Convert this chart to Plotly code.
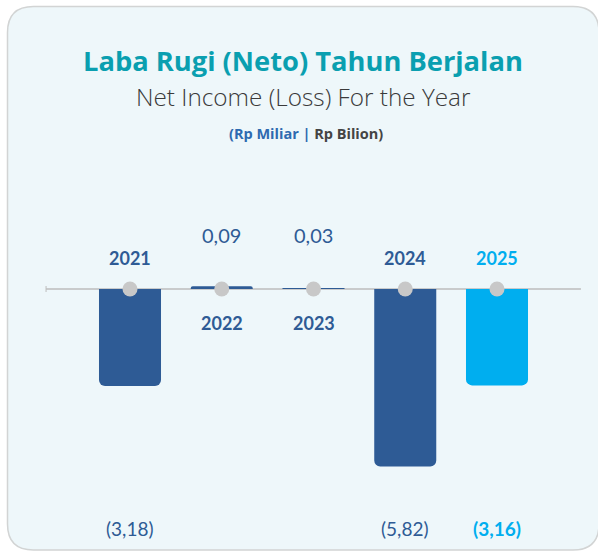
import plotly.graph_objects as go

# ---- data ----
years = ["2021", "2022", "2023", "2024", "2025"]
net_income = [-3.18, 0.09, 0.03, -5.82, -3.16]
bar_colors = ["#2E5B95", "#2E5B95", "#2E5B95", "#2E5B95", "#00AEEF"]
highlight = [False, False, False, False, True]

title_id = "Laba Rugi (Neto) Tahun Berjalan"
title_en = "Net Income (Loss) For the Year"

W, H = 598, 551
DARK = "#2E5B95"
CYAN = "#00AEEF"


def fmt(v):
    s = f"{abs(v):.2f}".replace(".", ",")
    return f"({s})" if v < 0 else s


def px(x):
    return x / W


def py(y):
    return 1 - y / H


xs = list(range(len(years)))

fig = go.Figure()

fig.add_trace(go.Bar(
    x=xs, y=net_income, width=0.676,
    marker=dict(color=bar_colors, cornerradius=6, line=dict(width=0)),
    hoverinfo="skip",
))

fig.add_trace(go.Scatter(
    x=xs, y=[0] * len(xs), mode="markers",
    marker=dict(size=15, color="#C8C8C8"),
    hoverinfo="skip",
))

# card (rounded rectangle)
l, t, r, b, rad = 7.5, 6.5, 599, 550, 26
path = (
    f"M {px(l+rad)},{py(t)} L {px(r-rad)},{py(t)} "
    f"Q {px(r)},{py(t)} {px(r)},{py(t+rad)} "
    f"L {px(r)},{py(b-rad)} Q {px(r)},{py(b)} {px(r-rad)},{py(b)} "
    f"L {px(l+rad)},{py(b)} Q {px(l)},{py(b)} {px(l)},{py(b-rad)} "
    f"L {px(l)},{py(t+rad)} Q {px(l)},{py(t)} {px(l+rad)},{py(t)} Z"
)
shapes = [
    dict(type="path", path=path, xref="paper", yref="paper",
         fillcolor="#EEF7FA", line=dict(color="#D2D4D4", width=1.5), layer="below"),
    dict(type="line", xref="x", yref="y", x0=-0.915, x1=4.915, y0=0, y1=0,
         line=dict(color="#BDBDBD", width=1.5), layer="below"),
    dict(type="line", xref="x", yref="paper", x0=-0.915, x1=-0.915,
         y0=py(292), y1=py(286), line=dict(color="#BDBDBD", width=1)),
]

annotations = [
    dict(text=f"<b>{title_id}</b>", x=px(303), y=py(60), xref="paper", yref="paper",
         xanchor="center", yanchor="middle", showarrow=False,
         font=dict(family="Open Sans", size=27.3, color="#0A9FB0")),
    dict(text=title_en, x=px(303), y=py(96), xref="paper", yref="paper",
         xanchor="center", yanchor="middle", showarrow=False,
         font=dict(family="Open Sans", size=24.3, weight=300, color="#3A3A3A")),
    dict(text="<b><span style='color:#2E6AB0'>(Rp Miliar |</span> Rp Bilion)</b>",
         x=px(306), y=py(134), xref="paper", yref="paper",
         xanchor="center", yanchor="middle", showarrow=False,
         font=dict(family="Open Sans", size=14.5, color="#444444")),
]

for i, (yr, v, hl) in enumerate(zip(years, net_income, highlight)):
    col = CYAN if hl else DARK
    if v < 0:
        annotations.append(dict(text=f"<b>{yr}</b>", x=i, y=0, xref="x", yref="y",
                                yshift=31, showarrow=False, yanchor="middle",
                                font=dict(family="Lato", size=18, color=col)))
        lab = f"<b>{fmt(v)}</b>" if hl else fmt(v)
        annotations.append(dict(text=lab, x=i, y=py(528), xref="x", yref="paper",
                                showarrow=False, yanchor="middle",
                                font=dict(family="Lato", size=19, color=col)))
    else:
        annotations.append(dict(text=f"<b>{yr}</b>", x=i, y=0, xref="x", yref="y",
                                yshift=-34, showarrow=False, yanchor="middle",
                                font=dict(family="Lato", size=18, color=col)))
        annotations.append(dict(text=fmt(v), x=i, y=0, xref="x", yref="y",
                                yshift=54, showarrow=False, yanchor="middle",
                                font=dict(family="Lato", size=20, color=col)))

scale = 30.5  # px per unit
fig.update_layout(
    width=W, height=H, margin=dict(l=0, r=0, t=0, b=0),
    paper_bgcolor="white", plot_bgcolor="rgba(0,0,0,0)",
    showlegend=False, shapes=shapes, annotations=annotations,
    xaxis=dict(range=[-130 / 91.75, (W - 130) / 91.75], visible=False, fixedrange=True),
    yaxis=dict(range=[-(H - 289) / scale, 289 / scale], visible=False, fixedrange=True),
)

fig.write_html("out.html", post_script="document.body.style.margin='0';",
               config={"displayModeBar": False})
